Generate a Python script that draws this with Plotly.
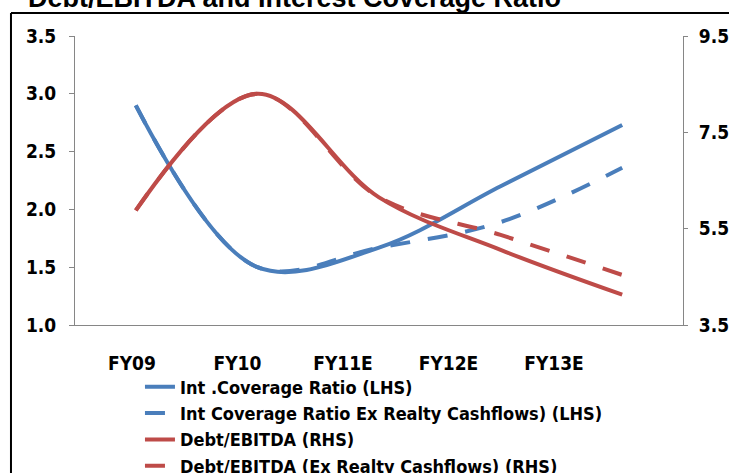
import plotly.graph_objects as go

# Fiscal years (E = estimate)
years = ["FY09", "FY10", "FY11E", "FY12E", "FY13E"]

# Interest coverage ratio, left axis (x)
int_cov = [2.90, 1.50, 1.67, 2.20, 2.73]
int_cov_ex_realty = [2.90, 1.50, 1.67, 1.89, 2.36]

# Debt / EBITDA, right axis (x)
debt_ebitda = [5.88, 8.30, 6.15, 5.06, 4.13]
debt_ebitda_ex_realty = [5.88, 8.30, 6.15, 5.37, 4.54]

BLUE = "#4A7EBB"
RED = "#BE4B48"
AXIS_GREY = "#868686"
FONT = "Liberation Sans Narrow, Arial Narrow, DejaVu Sans Condensed, sans-serif"

x_idx = list(range(len(years)))

fig = go.Figure()

fig.add_trace(go.Scatter(
    x=x_idx, y=int_cov, name="Int .Coverage Ratio (LHS)", mode="lines",
    line=dict(color=BLUE, width=4, shape="spline", smoothing=1.0),
    yaxis="y"))
fig.add_trace(go.Scatter(
    x=x_idx, y=int_cov_ex_realty, name="Int Coverage Ratio Ex Realty Cashflows) (LHS)",
    mode="lines",
    line=dict(color=BLUE, width=4, shape="spline", smoothing=1.0, dash="20px,18px"),
    yaxis="y"))
fig.add_trace(go.Scatter(
    x=x_idx, y=debt_ebitda, name="Debt/EBITDA (RHS)", mode="lines",
    line=dict(color=RED, width=4, shape="spline", smoothing=1.0),
    yaxis="y2"))
fig.add_trace(go.Scatter(
    x=x_idx, y=debt_ebitda_ex_realty, name="Debt/EBITDA (Ex Realty Cashflows) (RHS)",
    mode="lines",
    line=dict(color=RED, width=4, shape="spline", smoothing=1.0, dash="20px,18px"),
    yaxis="y2"))

# Invisible carrier so the category label axis gets drawn
fig.add_trace(go.Scatter(
    x=x_idx, y=[1.0] * len(years), mode="none", xaxis="x2", yaxis="y",
    showlegend=False, hoverinfo="skip"))

tick_font = dict(family=FONT, size=19, color="black", weight="bold")

fig.update_layout(
    width=729, height=473,
    margin=dict(l=75, r=46, t=36, b=148, autoexpand=False),
    paper_bgcolor="white", plot_bgcolor="white",
    font=dict(family=FONT, color="black"),
    showlegend=True,
    legend=dict(
        xref="container", yref="container",
        x=0.192, y=0.221, xanchor="left", yanchor="top",
        font=dict(family=FONT, size=18, color="black", weight="bold"),
        bgcolor="rgba(0,0,0,0)", borderwidth=0,
        traceorder="normal",
    ),
    xaxis=dict(
        range=[-0.5, 4.5], showgrid=False, zeroline=False,
        showline=True, linecolor=AXIS_GREY, linewidth=1,
        showticklabels=False, ticks="",
    ),
    # category label axis drawn over the plotting axis
    xaxis2=dict(
        overlaying="x", anchor="y", side="bottom",
        range=[-0.54, 5.223], showgrid=False, zeroline=False, showline=False,
        tickmode="array", tickvals=x_idx, ticktext=years,
        ticks="", tickfont=tick_font, ticklabelstandoff=25,
    ),
    yaxis=dict(
        range=[1.0, 3.5], dtick=0.5, tickformat=".1f",
        showgrid=False, zeroline=False,
        showline=True, linecolor=AXIS_GREY, linewidth=1,
        ticks="outside", ticklen=5, tickcolor=AXIS_GREY,
        tickfont=tick_font, ticklabelstandoff=9,
    ),
    yaxis2=dict(
        range=[3.5, 9.5], tickvals=[3.5, 5.5, 7.5, 9.5], tickformat=".1f",
        overlaying="y", side="right", anchor="x",
        showgrid=False, zeroline=False,
        showline=True, linecolor=AXIS_GREY, linewidth=1,
        ticks="outside", ticklen=4, tickcolor=AXIS_GREY,
        tickfont=tick_font, ticklabelstandoff=7,
    ),
)

# Title
fig.add_annotation(
    text="Debt/EBITDA and Interest Coverage Ratio",
    xref="paper", yref="paper", x=-0.08, y=1.1315,
    xanchor="left", yanchor="middle", showarrow=False,
    font=dict(family="Liberation Sans, Arial, sans-serif", size=27,
              color="black", weight="bold"),
)

# Chart frame (top and left edges)
fig.add_shape(type="line", xref="paper", yref="paper",
              x0=-0.1053, y0=1.0796, x1=1.1, y1=1.0796,
              line=dict(color="black", width=2))
fig.add_shape(type="line", xref="paper", yref="paper",
              x0=-0.1053, y0=1.0796, x1=-0.1053, y1=-0.55,
              line=dict(color="black", width=2))

fig.write_html("out.html")
